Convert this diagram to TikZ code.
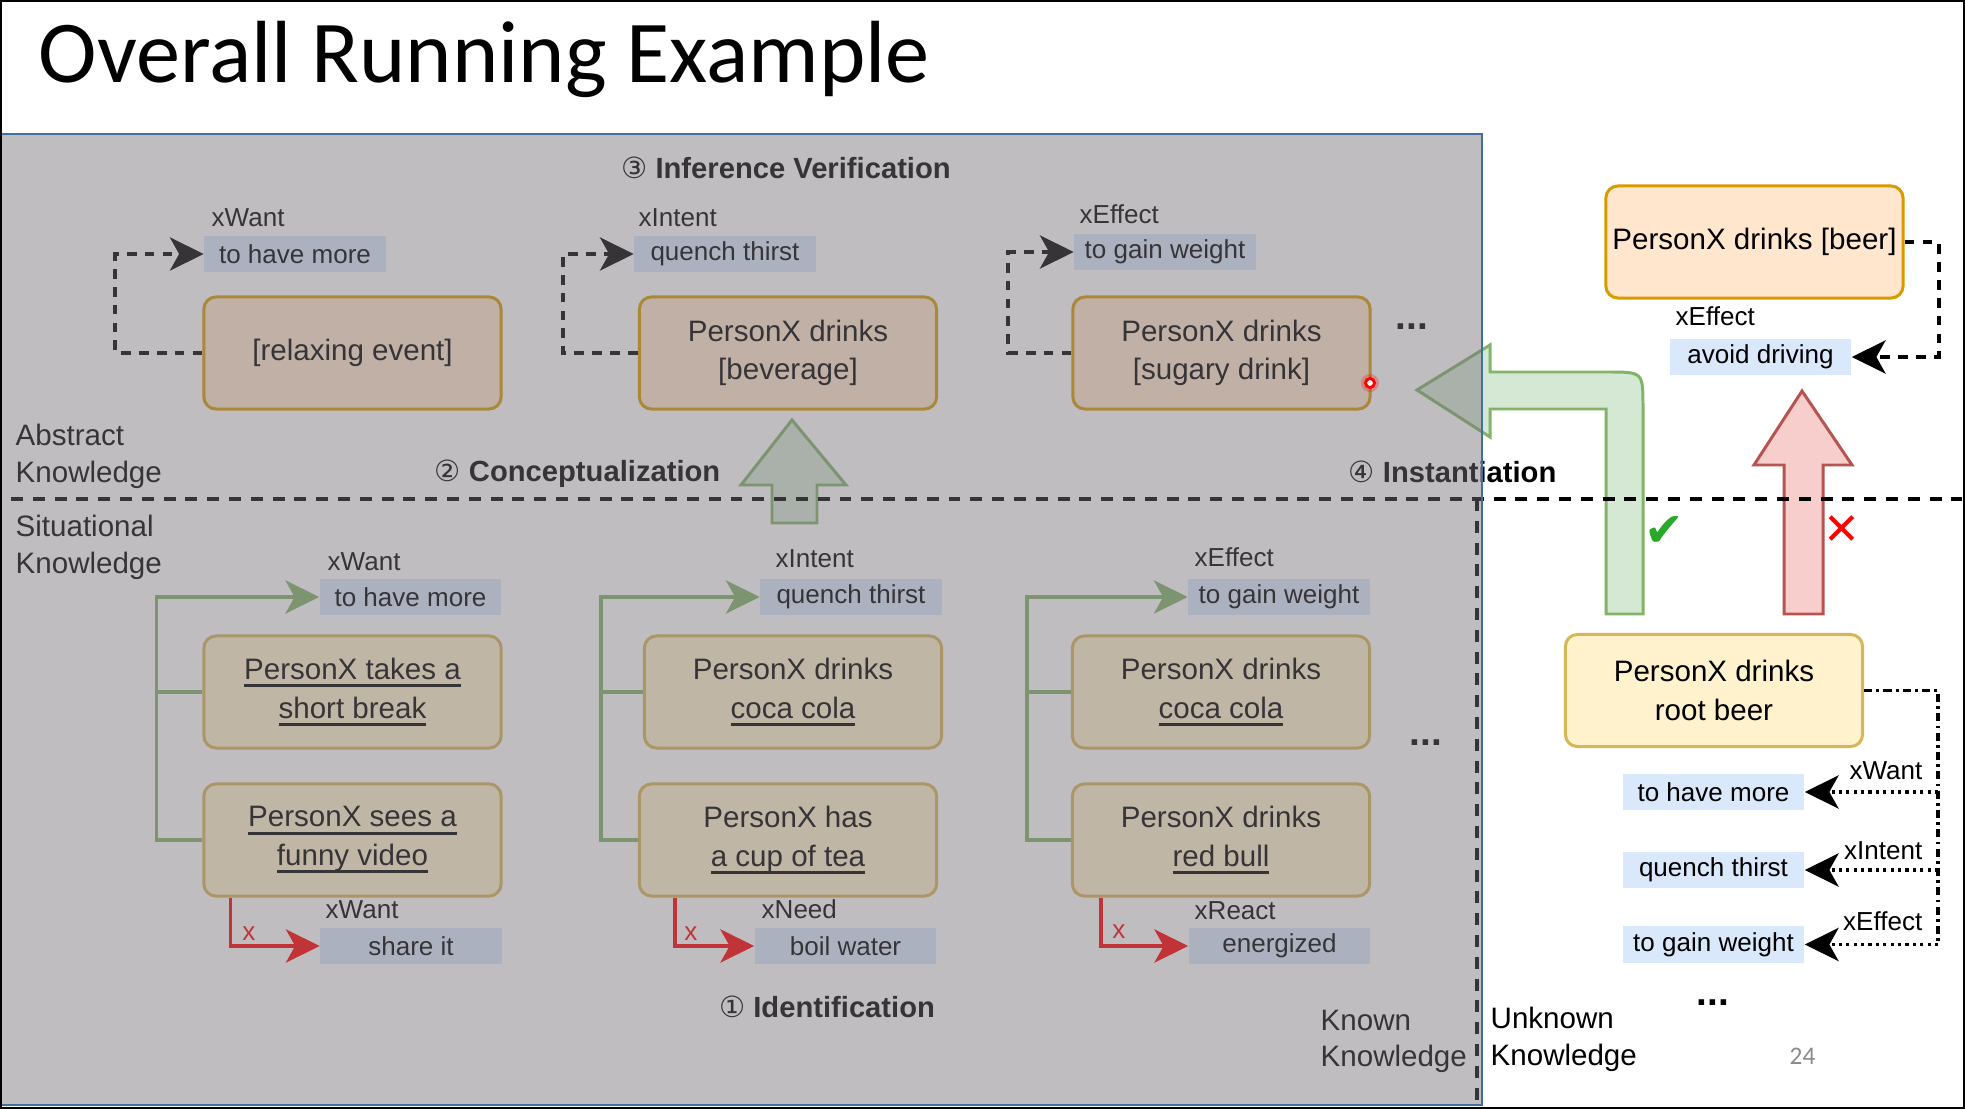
\documentclass[tikz,border=0pt]{standalone}
\usepackage{fontspec}
\setmainfont{Liberation Sans}
\newfontfamily\carlito{Carlito}
\newfontfamily\dejavu{DejaVu Sans}
\usetikzlibrary{arrows.meta,positioning}

\definecolor{orfill}{HTML}{FFE6CC}
\definecolor{orline}{HTML}{D79B00}
\definecolor{yefill}{HTML}{FFF2CC}
\definecolor{yeline}{HTML}{D6B656}
\definecolor{tailfill}{HTML}{DAE8FC}
\definecolor{grfill}{HTML}{D5E8D4}
\definecolor{grline}{HTML}{82B366}
\definecolor{rdfill}{HTML}{F8CECC}
\definecolor{rdline}{HTML}{B85450}
\definecolor{ovl}{RGB}{119,114,123}
\definecolor{panelblue}{RGB}{65,112,158}
\definecolor{okgreen}{RGB}{40,170,40}

\newcommand{\bxfont}{\fontsize{8.4}{11}\selectfont}
\newcommand{\lbfont}{\fontsize{7.4}{9}\selectfont}
\newcommand{\hdfont}{\fontsize{8.3}{10}\selectfont\bfseries}
\newcommand{\circnum}[1]{{\dejavu\mdseries #1}}
\newcommand{\undl}[1]{\setbox0\hbox{#1}\rlap{\rule[-2.2pt]{\wd0}{0.85pt}}\box0}

\begin{document}
\begin{tikzpicture}[x=0.01cm, y=-0.01cm,
    abox/.style={draw=orline, fill=orfill, line width=0.85pt, rounded corners=0.12cm,
      minimum width=2.97cm, minimum height=1.12cm, align=center, font=\bxfont, inner sep=0pt},
    sbox/.style={abox, draw=yeline, fill=yefill},
    tail/.style={fill=tailfill, minimum width=1.81cm, minimum height=0.36cm, inner sep=0pt, font=\lbfont},
    rel/.style={anchor=base west, inner sep=0pt, font=\lbfont},
    head/.style={anchor=base, inner sep=0pt, font=\hdfont},
    side/.style={anchor=north west, inner sep=0pt, align=left, font=\fontsize{8.4}{10.5}\selectfont},
    dots/.style={anchor=base, inner sep=0pt, font=\bfseries\fontsize{11}{11}\selectfont},
    bigtip/.style={-{Stealth[length=9.6pt, width=9.4pt, inset=2.6pt]}},
    dconn/.style={bigtip, line width=1.15pt, dash pattern=on 2.8pt off 2.3pt},
    gconn/.style={draw=grline, line width=1pt},
    rconn/.style={draw=red, line width=1.1pt, bigtip},
    dotconn/.style={bigtip, line width=1.1pt, dash pattern=on 0.9pt off 1.2pt},
    sepline/.style={line width=1.1pt, dash pattern=on 3.4pt off 2.8pt}]

  \fill[white] (0,0) rectangle (1965,1109);
  \useasboundingbox (0,0) rectangle (1965,1109);

  % title
  \node[anchor=base west, inner sep=0pt, font=\carlito\fontsize{25.1}{30}\selectfont] (title) at (38,82) {Overall Running Example};

  % abstract knowledge
  \node[abox] (A1) at (352.5,353) {[relaxing event]};
  \node[abox] (A2) at (788,353) {PersonX drinks\\ {[beverage]}};
  \node[abox] (A3) at (1221.5,353) {PersonX drinks\\ {[sugary drink]}};

  \node[tail] (tA1) at (295,254) {to have more};
  \node[tail] (tA2) at (725,254) {quench thirst};
  \node[tail] (tA3) at (1165,252) {to gain weight};
  \node[rel] (rA1) at (211,226) {xWant};
  \node[rel] (rA2) at (638,226) {xIntent};
  \node[rel] (rA3) at (1079,223) {xEffect};

  \draw[dconn] (A1.west) -- ++(-87,0) |- (tA1.west);
  \draw[dconn] (A2.west) -- ++(-75,0) |- (tA2.west);
  \draw[dconn] (A3.west) -- ++(-63,0) |- (tA3.west);
  \node[dots] (more1) at (1412,329) {...};

  % situational knowledge
  \node[sbox] (B1) at (352.5,692) {\undl{PersonX takes a}\\\undl{short break}};
  \node[sbox] (B2) at (352.5,840) {\undl{PersonX sees a}\\\undl{funny video}};
  \node[sbox] (C1) at (793,692) {PersonX drinks\\\undl{coca cola}};
  \node[sbox] (C2) at (788,840) {PersonX has\\\undl{a cup of tea}};
  \node[sbox] (D1) at (1221,692) {PersonX drinks\\\undl{coca cola}};
  \node[sbox] (D2) at (1221,840) {PersonX drinks\\\undl{red bull}};

  \node[tail] (tB) at (410.5,597) {to have more};
  \node[tail] (tC) at (851,597) {quench thirst};
  \node[tail] (tD) at (1279,597) {to gain weight};
  \node[rel] (rB) at (327,570) {xWant};
  \node[rel] (rC) at (775,567) {xIntent};
  \node[rel] (rD) at (1194,566) {xEffect};

  \draw[gconn] (B1.west) -- ++(-46,0);
  \draw[gconn, bigtip] (B2.west) -- ++(-46,0) |- (tB.west);
  \draw[gconn] (C1.west) -- ++(-42,0);
  \draw[gconn, bigtip] (C2.west) -- ++(-37,0) |- (tC.west);
  \draw[gconn] (D1.west) -- ++(-44,0);
  \draw[gconn, bigtip] (D2.west) -- ++(-44,0) |- (tD.west);

  \node[tail] (sB) at (411,946) {share it};
  \node[tail] (sC) at (845.5,946) {boil water};
  \node[tail] (sD) at (1279.5,946) {energized};
  \node[rel] (qB) at (325,918) {xWant};
  \node[rel] (qC) at (761,918) {xNeed};
  \node[rel] (qD) at (1194,919) {xReact};

  \draw[rconn] ([xshift=0.28cm]B2.south west) |- (sB.west);
  \draw[rconn] ([xshift=0.37cm]C2.south west) |- (sC.west);
  \draw[rconn] ([xshift=0.30cm]D2.south west) |- (sD.west);
  \node[text=red, font=\lbfont, inner sep=0pt] (xB) at (249,934) {x};
  \node[text=red, font=\lbfont, inner sep=0pt] (xC) at (691,934) {x};
  \node[text=red, font=\lbfont, inner sep=0pt] (xD) at (1119,932) {x};
  \node[dots] (more2) at (1426,745) {...};

  % labels of the panel
  \node[side] (abst) at (15,423) {Abstract\\Knowledge};
  \node[side] (situ) at (15,514) {Situational\\Knowledge};
  \node[side] (known) at (1320,1009) {Known\\Knowledge};
  \node[head] (verif) at (786,178) {\circnum{③} Inference Verification};
  \node[head] (concept) at (577.5,481) {\circnum{②} Conceptualization};
  \node[head] (ident) at (827,1017) {\circnum{①} Identification};

  % big arrows
  \draw[draw=grline, fill=grfill, line width=0.85pt] (792,420) -- (846,485) -- (817,485) -- (817,523)
    -- (772,523) -- (772,485) -- (741,485) -- cycle;
  \draw[draw=grline, fill=grfill, line width=0.85pt] (1417,390) -- (1490,345) -- (1490,372) -- (1608,372)
    .. controls (1643,372) .. (1643,407) -- (1643,614) -- (1606,614) -- (1606,409) -- (1490,409)
    -- (1490,437) -- cycle;
  \draw[draw=rdline, fill=rdfill, line width=0.85pt] (1802,391) -- (1852,465) -- (1823,465) -- (1823,614)
    -- (1784,614) -- (1784,465) -- (1754,465) -- cycle;
  \node[head] (inst) at (1452.5,482) {\circnum{④} Instantiation};

  % separators
  \draw[sepline] (11,499) -- (1962,499);
  \draw[sepline] (1477,499) -- (1477,1105);

  % unknown knowledge
  \node[abox] (beer) at (1754.5,242) {PersonX drinks [beer]};
  \node[rel] (rbeer) at (1675,325) {xEffect};
  \node[tail] (avoid) at (1760.5,357) {avoid driving};
  \draw[dconn] (beer.east) -- ++(34,0) |- (avoid.east);

  \node[sbox] (root) at (1714,690.5) {PersonX drinks\\root beer};
  \node[tail] (u1) at (1713.5,792) {to have more};
  \node[tail] (u2) at (1713.5,870) {quench thirst};
  \node[tail] (u3) at (1713.5,944.5) {to gain weight};
  \node[rel, anchor=base east] (ru1) at (1923,779) {xWant};
  \node[rel, anchor=base east] (ru2) at (1923,859) {xIntent};
  \node[rel, anchor=base east] (ru3) at (1923,930) {xEffect};
  \draw[line width=1.1pt, dash pattern=on 2.3pt off 1.2pt on 0.8pt off 1.2pt]
    (root.east) -- ++(74,0) coordinate (trunk) -- (trunk |- u3.east);
  \draw[dotconn] (trunk |- u1.east) -- (u1.east);
  \draw[dotconn] (trunk |- u2.east) -- (u2.east);
  \draw[dotconn] (trunk |- u3.east) -- (u3.east);
  \node[dots] (more3) at (1713,1005) {...};
  \node[side] (unknown) at (1490,1006) {Unknown\\Knowledge};
  \node[anchor=base west, inner sep=0pt, text=black!46, font=\carlito\fontsize{7.2}{8}\selectfont] (pnum) at (1789,1064) {24};

  \node[text=okgreen, inner sep=0pt, font=\dejavu\fontsize{13.5}{14}\selectfont] (ok) at (1664,532) {✔};
  \node[text=red, inner sep=0pt, font=\dejavu\fontsize{12.5}{13}\selectfont] (no) at (1842,530) {✕};

  % known knowledge panel
  \fill[ovl, fill opacity=0.463] (0,134) rectangle (1482,1105);
  \draw[panelblue, line width=0.57pt] (0,134) rectangle (1482,1105);
  \fill[red, opacity=0.25] (1370,383) circle (0.09cm);
  \draw[red, line width=0.8pt, fill=white] (1370,383) circle (0.045cm);

  \draw[line width=1.4pt] (0,0) rectangle (1965,1109);
\end{tikzpicture}
\end{document}
